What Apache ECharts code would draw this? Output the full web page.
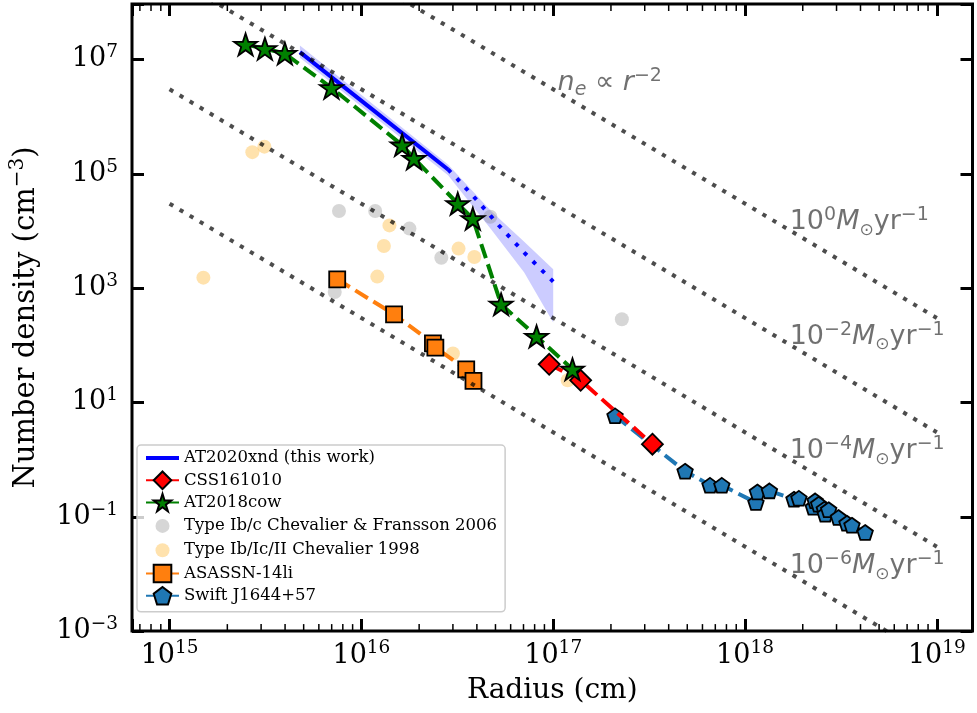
<!DOCTYPE html>
<html><head><meta charset="utf-8">
<script src="https://cdn.jsdelivr.net/npm/echarts@6/dist/echarts.min.js"></script>
<style>html,body{margin:0;padding:0;background:#fff}#c{width:977px;height:713px}</style>
</head><body><div id="c"></div>
<script>
// ---------------- data (radius in cm, number density in cm^-3) ----------------
const xTickExp = [15, 16, 17, 18, 19];
const yTickExp = [-3, -1, 1, 3, 5, 7];

const xndSolidR = [4.78e15, 1.17e16, 2.83e16];
const xndSolidN = [1.34e7, 1.25e6, 1.19e5];
const xndDotR = [2.83e16, 3.18e16, 4.04e16, 5.24e16, 7.06e16, 1.0e17];
const xndDotN = [1.19e5, 7.98e4, 3.33e4, 1.22e4, 4180, 1300];
const xndBandR = [4.78e15, 2.83e16, 4.74e16, 7.06e16, 1.0e17];
const xndBandHi = [1.76e7, 1.46e5, 2.23e4, 6470, 2130];
const xndBandLo = [1.07e7, 9.4e4, 1.07e4, 1867, 250];

const cssR = [9.53e16, 1.39e17, 3.29e17];
const cssN = [46.5, 24.4, 1.86];

const cowR = [2.49e15, 3.14e15, 3.99e15, 6.98e15, 1.63e16, 1.88e16, 3.18e16, 3.81e16, 5.35e16, 8.19e16, 1.26e17];
const cowN = [1.83e7, 1.54e7, 1.27e7, 3.2e6, 3.18e5, 1.86e5, 3.0e4, 1.64e4, 521, 143, 38];

const cf06R = [7.64e15, 1.18e16, 1.78e16, 2.61e16, 7.26e15, 4.70e16, 2.28e17];
const cf06N = [2.23e4, 2.23e4, 1.10e4, 3390, 855, 1.77e4, 285];

const c98R = [2.70e15, 3.12e15, 1.50e15, 1.40e16, 1.31e16, 1.21e16, 3.21e16, 3.88e16, 3.0e16, 1.19e17];
const c98N = [2.39e5, 2.98e5, 1525, 1.25e4, 5450, 1590, 4910, 3500, 71.6, 24.4];

const asnR = [7.48e15, 1.48e16, 2.36e16, 2.43e16, 3.52e16, 3.84e16];
const asnN = [1426, 348, 108, 91, 38, 23.8];

const swR = [2.10e17, 4.87e17, 6.57e17, 7.57e17, 1.14e18, 1.16e18, 1.34e18, 1.80e18, 1.91e18, 2.27e18, 2.32e18, 2.42e18, 2.59e18, 2.62e18, 2.73e18, 3.07e18, 3.40e18, 3.61e18, 4.23e18];
const swN = [5.85, 0.627, 0.356, 0.356, 0.177, 0.272, 0.284, 0.203, 0.211, 0.147, 0.19, 0.166, 0.136, 0.111, 0.133, 0.0973, 0.0773, 0.0713, 0.0532];

// wind-density reference lines n_e ∝ r^-2 (end points at r = 1e15 and 1e19)
const windR = [1e15, 1e19];
const wind0N = [3.0e10, 3.0e2];
const windM2N = [3.0e8, 3.0];
const windM4N = [3.0e6, 3.0e-2];
const windM6N = [3.0e4, 3.0e-4];

// annotation anchors (left / middle of text) and texts
const annR = [1.06e17, 1.72e18, 1.72e18, 1.72e18, 1.72e18];
const annN = [3.75e6, 1.38e4, 138, 1.38, 0.0133];
const annText = [
  '{ni|n}{se|e}{a| ∝ }{ni|r}{p|−2}',
  '{a|10}{p|0}{mi|M}{o|⊙}{a|yr}{p|−1}',
  '{a|10}{p|−2}{mi|M}{o|⊙}{a|yr}{p|−1}',
  '{a|10}{p|−4}{mi|M}{o|⊙}{a|yr}{p|−1}',
  '{a|10}{p|−6}{mi|M}{o|⊙}{a|yr}{p|−1}'
];

const legendNames = ['AT2020xnd (this work)', 'CSS161010', 'AT2018cow',
  'Type Ib/c Chevalier & Fransson 2006', 'Type Ib/Ic/II Chevalier 1998',
  'ASASSN-14li', 'Swift J1644+57'];

// ---------------- helpers ----------------
const pairs = (r, n) => r.map((v, i) => [v, n[i]]);
const X_MIN = Math.pow(10, 14.804), X_MAX = Math.pow(10, 19.186);
const Y_MIN = 1e-3, Y_MAX = Math.pow(10, 7.97);
const SERIF = 'DejaVu Serif', SANS = 'DejaVu Sans';
const GREY = 'rgba(0,0,0,0.7)';
const supNum = e => (e < 0 ? '−' + (-e) : String(e));
function powFmt(list) {
  return function (v) {
    const l = Math.log10(v), e = Math.round(l);
    if (Math.abs(l - e) > 1e-6 || list.indexOf(e) < 0) return '';
    return '{b|10}{s|' + supNum(e) + '}';
  };
}
const tickRich = {
  b: { fontFamily: SERIF, fontSize: 27, lineHeight: 33, color: '#000' },
  s: { fontFamily: SERIF, fontSize: 18.5, lineHeight: 18, verticalAlign: 'top', color: '#000' }
};
const STAR = 'path://M0,-100L22.45,-30.9L95.11,-30.9L36.33,11.8L58.78,80.9L0,38.2L-58.78,80.9L-36.33,11.8L-95.11,-30.9L-22.45,-30.9Z';
const PENT = 'path://M0,-100L95.1,-30.9L58.8,80.9L-58.8,80.9L-95.1,-30.9Z';
const CIRCLE_ICON = 'path://M0,0M22,22M18,11A7,7,0,1,1,4,11A7,7,0,1,1,18,11Z';
const BAR_ICON = 'path://M0,0L33,0L33,4L0,4Z';

// minor tick positions on the log x axis (2..9 x 10^k)
const minorX = [];
for (let k = 14; k <= 19; k++) for (let m = 2; m <= 9; m++) {
  const v = m * Math.pow(10, k);
  if (v > X_MIN && v < X_MAX) minorX.push([v, 1]);
}

function windSeries(name, n) {
  return { type: 'line', name: name, data: pairs(windR, n), symbol: 'none', z: 6, silent: true,
    lineStyle: { color: GREY, width: 4, type: [4.2, 7.5], cap: 'butt' } };
}
function dashedLine(name, r, n, color, symbol, size, z) {
  return { type: 'line', name: name, data: pairs(r, n), z: z,
    symbol: symbol, symbolSize: size, symbolKeepAspect: true, showSymbol: true,
    lineStyle: { color: color, width: 4, type: [14.8, 6.4], cap: 'butt' },
    itemStyle: { color: color, borderColor: '#000', borderWidth: 1.8 } };
}

const chart = echarts.init(document.getElementById('c'), null, { renderer: 'canvas' });
chart.setOption({
  animation: false,
  backgroundColor: '#fff',
  grid: { left: 130, right: 4.5, top: 4, bottom: 81.5, show: true, borderColor: '#000', borderWidth: 3, backgroundColor: 'transparent' },
  xAxis: [{
    type: 'log', min: X_MIN, max: X_MAX, position: 'bottom',
    axisLine: { show: false },
    axisTick: { show: true, inside: true, length: 12, lineStyle: { color: '#000', width: 3 } },
    splitLine: { show: false },
    axisLabel: { formatter: powFmt(xTickExp), margin: 8, rich: tickRich, showMinLabel: true, showMaxLabel: true, hideOverlap: false },
    name: 'Radius (cm)', nameLocation: 'middle', nameGap: 40,
    nameTextStyle: { fontFamily: SERIF, fontSize: 28, lineHeight: 34, color: '#000' }
  }, {
    type: 'log', min: X_MIN, max: X_MAX, position: 'top',
    axisLine: { show: false },
    axisTick: { show: true, inside: true, length: 12, lineStyle: { color: '#000', width: 3 } },
    splitLine: { show: false }, axisLabel: { show: false }
  }],
  yAxis: [{
    type: 'log', min: Y_MIN, max: Y_MAX, interval: 2, position: 'left',
    axisLine: { show: false },
    axisTick: { show: true, inside: true, length: 12, lineStyle: { color: '#000', width: 3 } },
    splitLine: { show: false },
    axisLabel: { formatter: powFmt(yTickExp), margin: 14, rich: tickRich, showMinLabel: true, showMaxLabel: true, hideOverlap: false },
    name: '{t|Number density (cm}{s|−3}{t|)}', nameLocation: 'middle', nameGap: 88,
    nameTextStyle: { rich: {
      t: { fontFamily: SERIF, fontSize: 29, lineHeight: 36, color: '#000' },
      s: { fontFamily: SERIF, fontSize: 20, lineHeight: 20, verticalAlign: 'top', color: '#000' } } }
  }, {
    type: 'log', min: Y_MIN, max: Y_MAX, interval: 2, position: 'right',
    axisLine: { show: false },
    axisTick: { show: true, inside: true, length: 12, lineStyle: { color: '#000', width: 3 } },
    splitLine: { show: false }, axisLabel: { show: false }
  }],
  legend: {
    left: 137, top: 445, orient: 'vertical', selectedMode: false,
    itemWidth: 33, itemHeight: 22, itemGap: 2.3, padding: [3, 8, 6, 8],
    backgroundColor: 'rgba(255,255,255,0.8)', borderColor: '#cccccc', borderWidth: 1.5, borderRadius: 4,
    textStyle: { fontFamily: SERIF, fontSize: 16.5, lineHeight: 20, color: '#000' },
    data: [
      { name: legendNames[0], icon: BAR_ICON },
      legendNames[1], legendNames[2],
      { name: legendNames[3], icon: CIRCLE_ICON },
      { name: legendNames[4], icon: CIRCLE_ICON },
      legendNames[5], legendNames[6]
    ]
  },
  series: [
    { type: 'custom', name: 'xnd band', silent: true, z: 1,
      data: pairs(xndBandR, xndBandLo),
      renderItem: function (params, api) {
        if (params.dataIndex !== 0) return;
        const pts = [];
        for (let i = 0; i < xndBandR.length; i++) pts.push(api.coord([xndBandR[i], xndBandHi[i]]));
        for (let i = xndBandR.length - 1; i >= 0; i--) pts.push(api.coord([xndBandR[i], xndBandLo[i]]));
        return { type: 'polygon', shape: { points: pts }, style: { fill: 'rgba(0,0,255,0.2)' } };
      } },
    { type: 'scatter', name: legendNames[3], data: pairs(cf06R, cf06N), symbol: 'circle', symbolSize: 14, z: 2,
      itemStyle: { color: 'rgba(128,128,128,0.4)' } },
    { type: 'scatter', name: legendNames[4], data: pairs(c98R, c98N), symbol: 'circle', symbolSize: 14, z: 2,
      itemStyle: { color: 'rgba(255,165,0,0.4)' } },
    { type: 'line', name: legendNames[0], data: pairs(xndSolidR, xndSolidN), symbol: 'none', z: 3,
      lineStyle: { color: '#0000ff', width: 4 }, itemStyle: { color: '#0000ff' } },
    { type: 'line', name: 'AT2020xnd extrapolation', data: pairs(xndDotR, xndDotN), symbol: 'none', z: 3,
      lineStyle: { color: '#0000ff', width: 4, type: [4, 8.5], cap: 'butt' }, itemStyle: { color: '#0000ff' } },
    dashedLine(legendNames[6], swR, swN, '#1f77b4', PENT, 15.5, 3),
    dashedLine(legendNames[5], asnR, asnN, '#ff7f0e', 'rect', 16, 3),
    dashedLine(legendNames[1], cssR, cssN, '#ff0000', 'diamond', 21, 4),
    dashedLine(legendNames[2], cowR, cowN, '#008000', STAR, 23, 5),
    windSeries('wind 1e0', wind0N),
    windSeries('wind 1e-2', windM2N),
    windSeries('wind 1e-4', windM4N),
    windSeries('wind 1e-6', windM6N),
    { type: 'scatter', name: 'annotations', silent: true, z: 7, symbolSize: 1,
      itemStyle: { color: 'transparent' },
      data: annR.map((r, i) => ({ value: [r, annN[i]], label: { formatter: annText[i] } })),
      label: { show: true, position: [0, 0], align: 'left', verticalAlign: 'middle', color: GREY,
        rich: {
          a: { fontFamily: SANS, fontSize: 27, lineHeight: 33, color: GREY },
          mi: { fontFamily: SANS, fontStyle: 'italic', fontSize: 27, lineHeight: 33, color: GREY },
          ni: { fontFamily: SANS, fontStyle: 'italic', fontSize: 27, lineHeight: 33, color: GREY },
          p: { fontFamily: SANS, fontSize: 19, lineHeight: 19, verticalAlign: 'top', color: GREY },
          o: { fontFamily: SANS, fontSize: 17, lineHeight: 14.4, verticalAlign: 'bottom', color: GREY },
          se: { fontFamily: SANS, fontStyle: 'italic', fontSize: 19, lineHeight: 21, verticalAlign: 'bottom', color: GREY }
        } } },
    { type: 'custom', name: 'minor ticks', silent: true, z: 8, data: minorX,
      renderItem: function (params, api) {
        const cs = params.coordSys;
        const x = api.coord([api.value(0), 1])[0];
        if (x < cs.x || x > cs.x + cs.width) return;
        const b = cs.y + cs.height;
        return { type: 'group', children: [
          { type: 'line', shape: { x1: x, y1: b, x2: x, y2: b - 7 }, style: { stroke: '#000', lineWidth: 1.5 } },
          { type: 'line', shape: { x1: x, y1: cs.y, x2: x, y2: cs.y + 7 }, style: { stroke: '#000', lineWidth: 1.5 } }
        ] };
      } }
  ]
});
</script></body></html>
